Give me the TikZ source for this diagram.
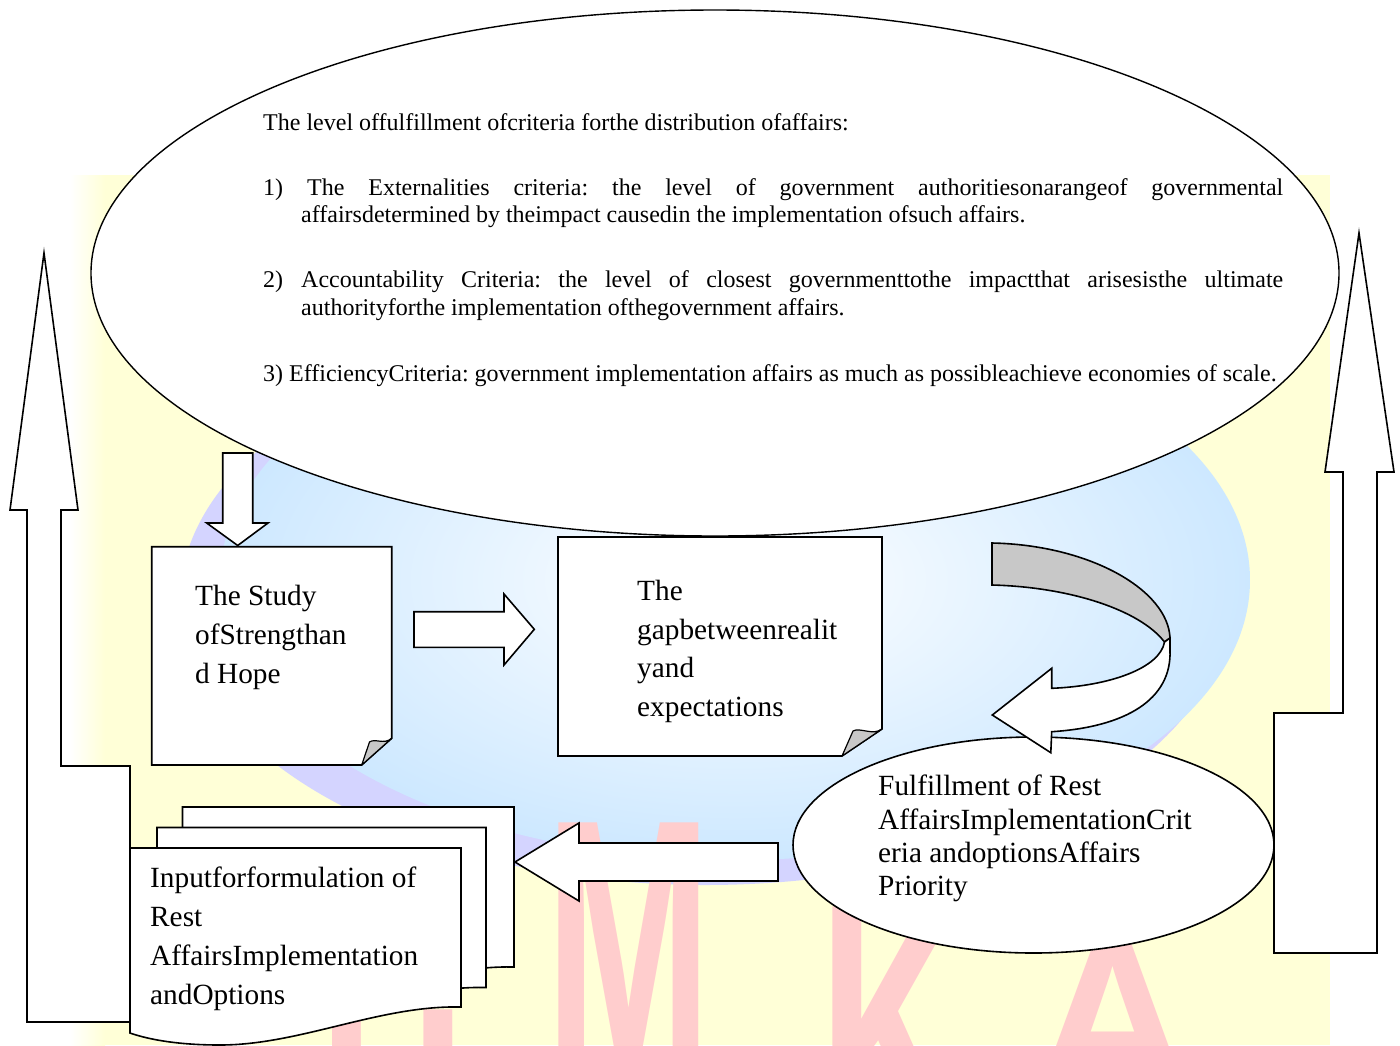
\documentclass[tikz,border=0pt]{standalone}
\usepackage{fontspec}
\setmainfont{Liberation Serif}
\newfontfamily\wmfont{Liberation Sans}
\frenchspacing
\definecolor{bgyel}{RGB}{255,255,215}
\definecolor{globeA}{RGB}{205,232,255}
\definecolor{globeB}{RGB}{212,212,255}
\definecolor{wmred}{RGB}{255,205,205}
\definecolor{foldgray}{RGB}{200,200,200}
\newcommand\fsE{\fontsize{24}{27.5}\selectfont}
\newcommand\fsB{\fontsize{29.3}{39}\selectfont}
\tikzset{
  shapeline/.style={draw=black, line width=1.6pt, fill=white, line join=miter},
  foldline/.style={draw=black, line width=1.2pt, fill=foldgray, line join=round},
  etxt/.style={anchor=base west, inner sep=0pt, font=\fsE},
  btxt/.style={anchor=base west, inner sep=0pt, font=\fsB},
  wm/.style={anchor=north, inner sep=0pt, text=wmred, font=\wmfont\bfseries\fontsize{200}{200}\selectfont}
}
\begin{document}
\begin{tikzpicture}[x=1pt,y=-1pt]
\useasboundingbox (0,0) rectangle (1400,1045);
% ---------- background watermark ----------
\begin{scope}
\clip (0,0) rectangle (1400,1045);
\fill[bgyel] (70,175) rectangle (1330,1045);
\shade[left color=white, right color=bgyel] (70,175) rectangle (105,1045);
\fill[globeB] (705,600) ellipse [x radius=525pt, y radius=285pt];
\shade[inner color=white, outer color=globeA] (735,580) ellipse [x radius=515pt, y radius=280pt];
\node[wm] (wmU) at (393,1010) {\scalebox{1}[1.8]{U}};
\node[wm] (wmM) at (629,823) {\scalebox{1}[1.8]{M}};
\node[wm] (wmK) at (892,907) {\scalebox{1}[1.8]{K}};
\node[wm] (wmA) at (1113,943) {\scalebox{1.1}[1.1]{A}};
\end{scope}
% ---------- side up arrows ----------
\draw[shapeline] (44,253) -- (78,510) -- (61,510) -- (61,766) -- (130,766) -- (130,1022) -- (27,1022) -- (27,510) -- (10,510) -- cycle;
\draw[shapeline] (1359,233) -- (1394,472) -- (1377,472) -- (1377,953) -- (1274,953) -- (1274,713) -- (1343,713) -- (1343,472) -- (1325,472) -- cycle;
% ---------- big ellipse ----------
\draw[draw=black, line width=1.4pt, fill=white] (715,273) ellipse [x radius=624pt, y radius=263pt];
\node[etxt] (e0) at (263,130) {The level offulfillment ofcriteria forthe distribution ofaffairs:};
\node[etxt] (e1n) at (263,195) {1)};
\node[etxt] (e1a) at (307,195) {\makebox[976pt][s]{The Externalities criteria: the level of government authoritiesonarangeof governmental}};
\node[etxt] (e1b) at (301,222) {affairsdetermined by theimpact causedin the implementation ofsuch affairs.};
\node[etxt] (e2n) at (263,287) {2)};
\node[etxt] (e2a) at (301,287) {\makebox[982pt][s]{Accountability Criteria: the level of closest governmenttothe impactthat arisesisthe ultimate}};
\node[etxt] (e2b) at (301,315) {authorityforthe implementation ofthegovernment affairs.};
\node[etxt] (e3) at (263,381) {3) EfficiencyCriteria: government implementation affairs as much as possibleachieve economies of scale.};
% ---------- down arrow ----------
\draw[shapeline] (222.7,453) -- (252.7,453) -- (252.7,523) -- (268,523) -- (237.7,545.5) -- (206.7,523) -- (222.7,523) -- cycle;
% ---------- box 1 ----------
\draw[shapeline] (151.7,546.7) -- (391.7,546.7) -- (391.7,738.3) -- (361.7,765) -- (151.7,765) -- cycle;
\draw[foldline] (391.7,738.3) .. controls (384,745) and (375,738) .. (369.5,742) -- (361.7,765) -- cycle;
\node[btxt] (b1a) at (195,605) {The Study};
\node[btxt] (b1b) at (195,644) {ofStrengthan};
\node[btxt] (b1c) at (195,683) {d Hope};
% ---------- right arrow ----------
\draw[shapeline] (414,611.7) -- (504,611.7) -- (504,594) -- (534.3,629.3) -- (504,665) -- (504,647.3) -- (414,647.3) -- cycle;
% ---------- box 2 ----------
\draw[shapeline] (558,537) -- (882,537) -- (882,729) -- (842,756) -- (558,756) -- cycle;
\draw[foldline] (882,729) .. controls (873,736) and (860,727) .. (853,731) -- (842,756) -- cycle;
\node[btxt] (b2a) at (637,600) {The};
\node[btxt] (b2b) at (637,639) {gapbetweenrealit};
\node[btxt] (b2c) at (637,677) {yand};
\node[btxt] (b2d) at (637,716) {expectations};
% ---------- ellipse 2 ----------
\draw[draw=black, line width=1.6pt, fill=white] (1033.5,845) ellipse [x radius=240.5pt, y radius=108pt];
\node[btxt] (f1) at (878,795) {Fulfillment of Rest};
\node[btxt] (f2) at (878,829) {AffairsImplementationCrit};
\node[btxt] (f3) at (878,862) {eria andoptionsAffairs};
\node[btxt] (f4) at (878,895) {Priority};
% ---------- curved arrow ----------
\draw[shapeline, fill=foldgray] (992,543) .. controls (1090,545) and (1168,590) .. (1170,638) -- (1164.5,642) .. controls (1140,610) and (1070,587) .. (992,585) -- cycle;
\draw[shapeline] (1164.5,642) .. controls (1160,668) and (1110,686) .. (1051.7,688.3) -- (1051.7,668.3) -- (992.3,715) -- (1050.8,752.7) -- (1051.7,731.7) .. controls (1125,727) and (1172,700) .. (1170,650) -- (1170,638) -- cycle;
% ---------- left arrow ----------
\draw[shapeline] (778,843) -- (579,843) -- (579,823) -- (515,862) -- (579,901) -- (579,881) -- (778,881) -- cycle;
% ---------- stacked documents ----------
\draw[shapeline] (182.5,807) -- (514,807) -- (514,967) .. controls (433,965) and (353,1005) .. (273,1005) .. controls (233,1005) and (203,1000) .. (182.5,993) -- cycle;
\draw[shapeline] (157,827.5) -- (486,827.5) -- (486,987.5) .. controls (405,985.5) and (325,1025.5) .. (245,1025.5) .. controls (205,1025.5) and (175,1020.5) .. (157,1013.5) -- cycle;
\draw[shapeline] (130,848) -- (461,848) -- (461,1007) .. controls (380,1005) and (300,1045) .. (220,1045) .. controls (180,1045) and (150,1040) .. (130,1033) -- cycle;
\node[btxt] (d1) at (150,887) {Inputforformulation of};
\node[btxt] (d2) at (150,926) {Rest};
\node[btxt] (d3) at (150,965) {AffairsImplementation};
\node[btxt] (d4) at (150,1004) {andOptions};
\end{tikzpicture}
\end{document}
